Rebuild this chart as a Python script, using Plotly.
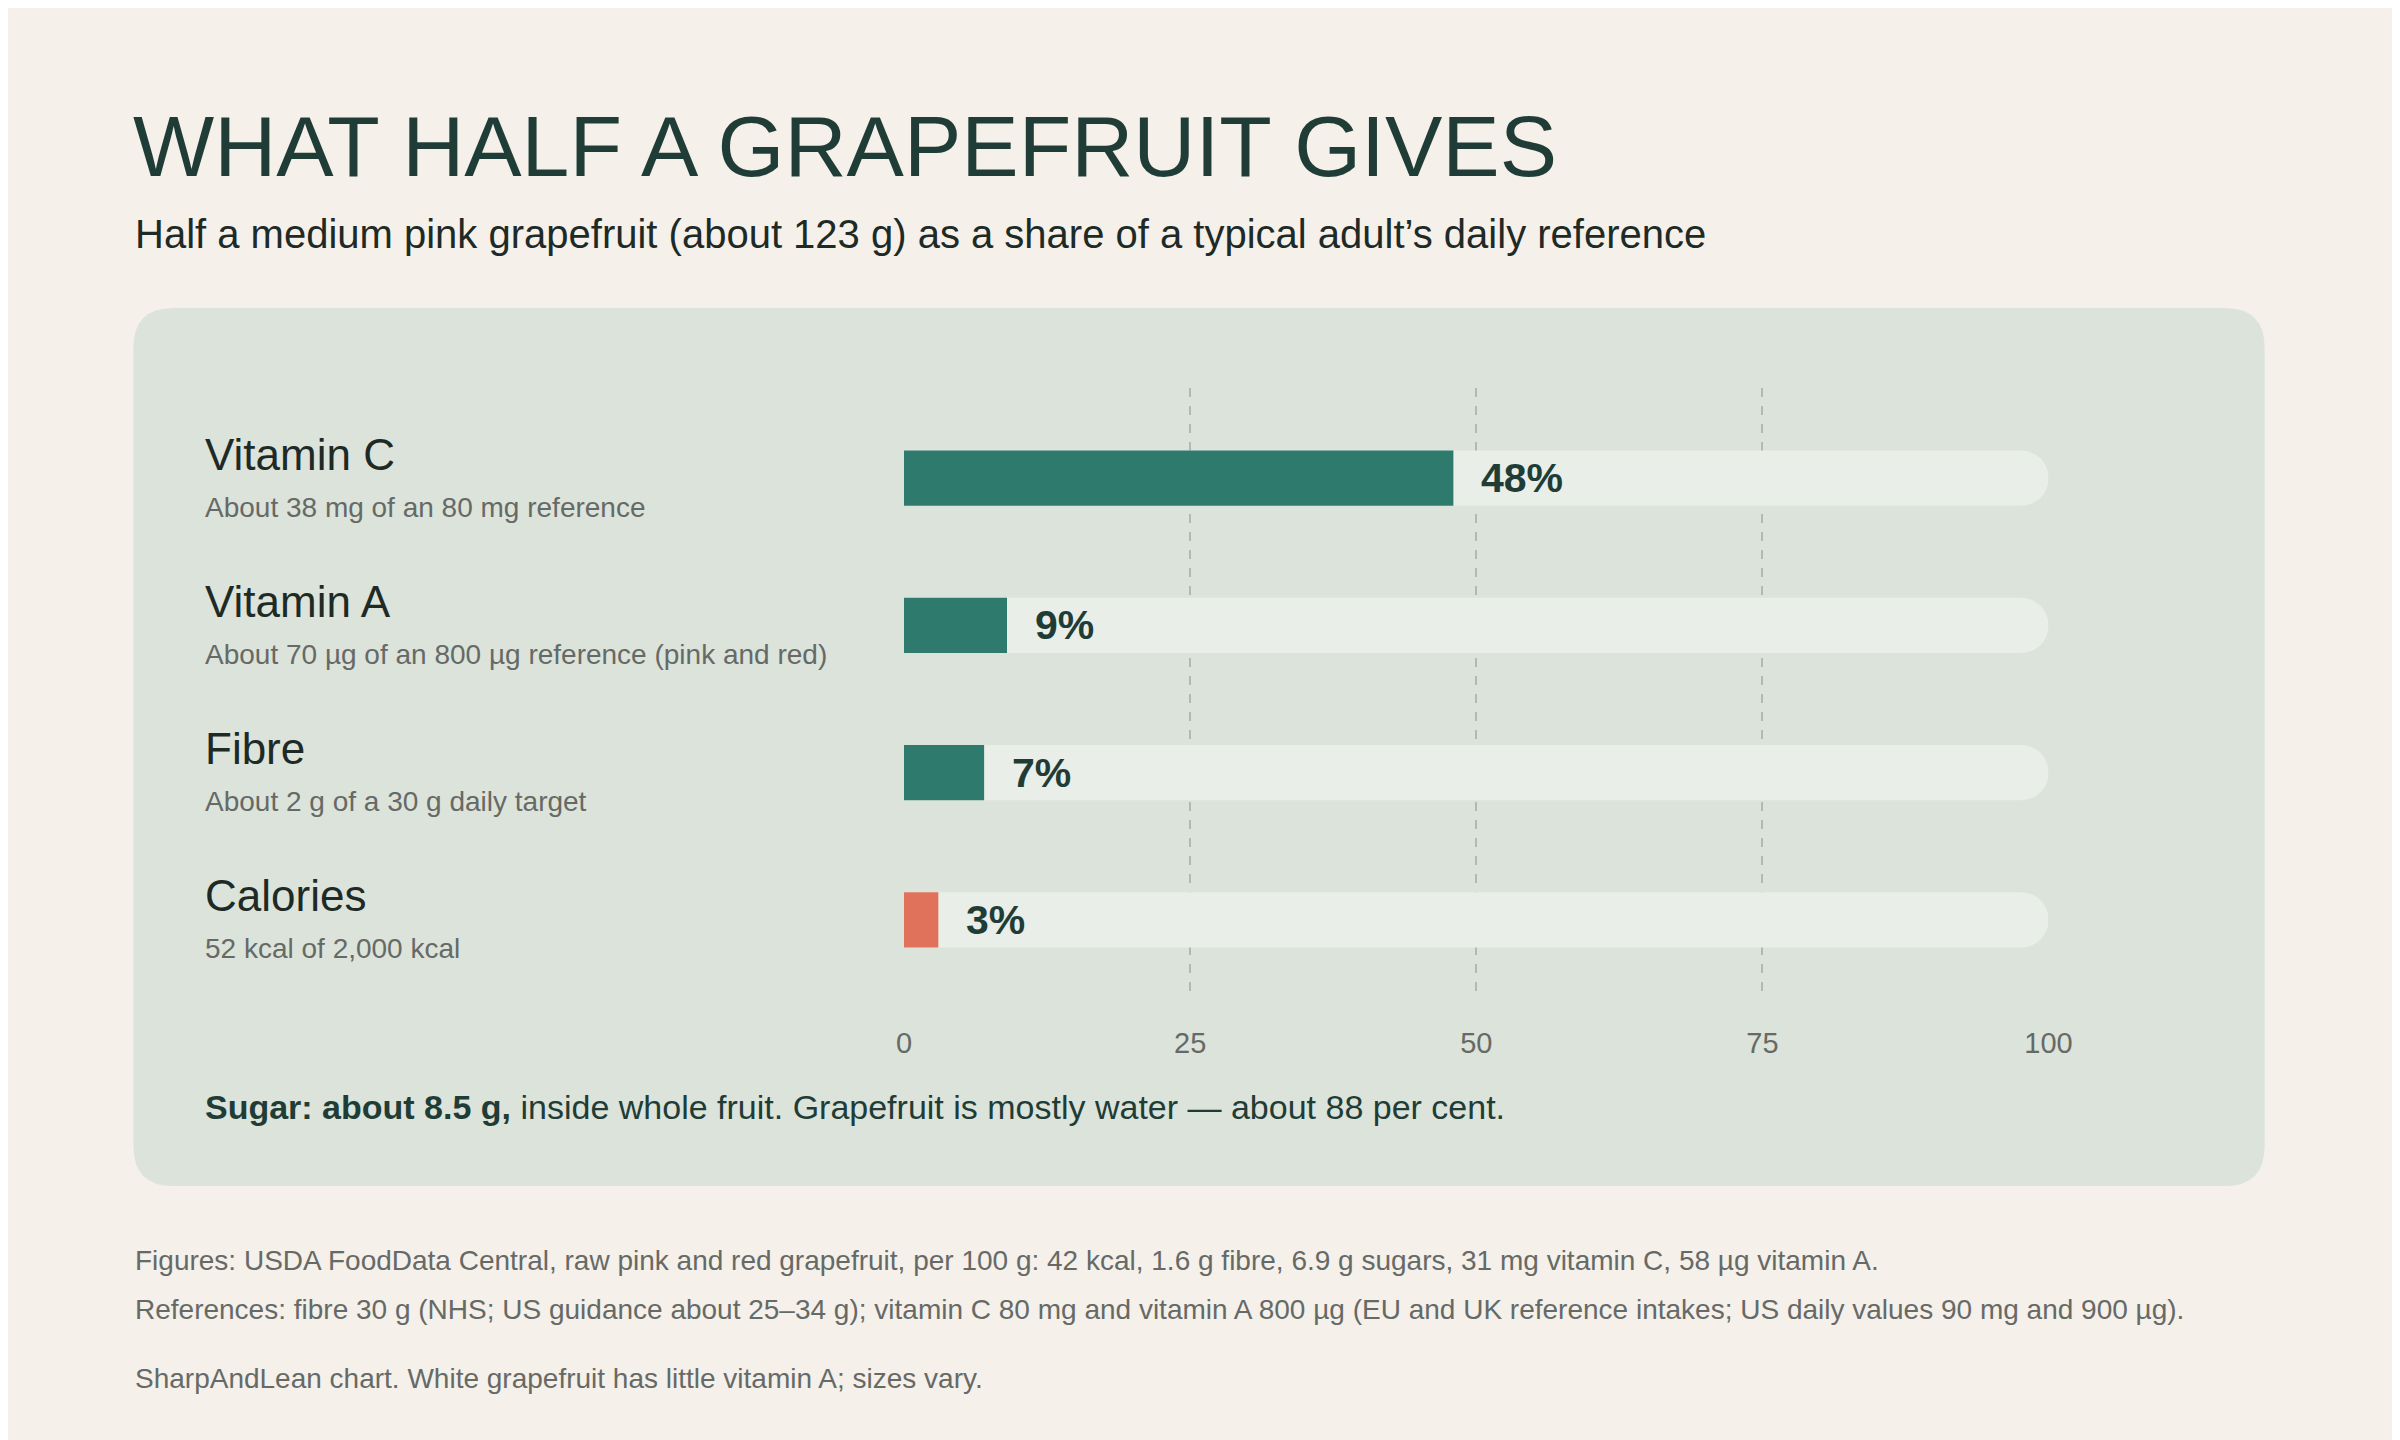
import plotly.graph_objects as go

W, H = 2400, 1440
nutrients = ["Vitamin C", "Vitamin A", "Fibre", "Calories"]
details = ["About 38 mg of an 80 mg reference",
           "About 70 µg of an 800 µg reference (pink and red)",
           "About 2 g of a 30 g daily target",
           "52 kcal of 2,000 kcal"]
shares = [48, 9, 7, 3]
bar_colors = ["#2e7b6e", "#2e7b6e", "#2e7b6e", "#e0725c"]
ticks = [0, 25, 50, 75, 100]

FONT = "Liberation Sans, Arial, sans-serif"
def px(x): return x / W
def py(y): return 1 - y / H

ypos = list(range(len(nutrients)))
fig = go.Figure()
fig.add_bar(x=[100]*len(nutrients), y=ypos, orientation="h", width=0.374,
            marker=dict(color="#e9eee8", line_width=0), hoverinfo="skip")
fig.add_bar(x=shares, y=ypos, orientation="h", width=0.374,
            marker=dict(color=bar_colors, line_width=0))

ann = []
for i, (n, d, s) in enumerate(zip(nutrients, details, shares)):
    cy = 470 + 147.3 * i
    ann.append(dict(text=n, x=px(190), y=py(cy - 24), xref="paper", yref="paper",
                    xanchor="left", yanchor="middle", showarrow=False,
                    font=dict(size=44, color="#1e2a26", family=FONT)))
    ann.append(dict(text=d, x=px(190), y=py(cy + 29), xref="paper", yref="paper",
                    xanchor="left", yanchor="middle", showarrow=False,
                    font=dict(size=28, color="#666a66", family=FONT)))
    ann.append(dict(text=f"<b>{s}%</b>", x=s, y=i, xref="x", yref="y",
                    xanchor="left", yanchor="middle", xshift=26, showarrow=False,
                    font=dict(size=41, color="#1f3d36", family=FONT)))

ann += [
    dict(text="WHAT HALF A GRAPEFRUIT GIVES", x=px(117), y=py(138), xref="paper", yref="paper",
         xanchor="left", yanchor="middle", showarrow=False,
         font=dict(size=86, color="#1f3d36", family=FONT)),
    dict(text="Half a medium pink grapefruit (about 123 g) as a share of a typical adult’s daily reference",
         x=px(119), y=py(226), xref="paper", yref="paper", xanchor="left", yanchor="middle",
         showarrow=False, font=dict(size=40, color="#1e2a26", family=FONT)),
    dict(text="<b>Sugar: about 8.5 g,</b> inside whole fruit. Grapefruit is mostly water — about 88 per cent.",
         x=px(190), y=py(1099), xref="paper", yref="paper", xanchor="left", yanchor="middle",
         showarrow=False, font=dict(size=34, color="#1f3d36", family=FONT)),
    dict(text="Figures: USDA FoodData Central, raw pink and red grapefruit, per 100 g: 42 kcal, 1.6 g fibre, 6.9 g sugars, 31 mg vitamin C, 58 µg vitamin A.",
         x=px(119), y=py(1252), xref="paper", yref="paper", xanchor="left", yanchor="middle",
         showarrow=False, font=dict(size=28, color="#666a66", family=FONT)),
    dict(text="References: fibre 30 g (NHS; US guidance about 25–34 g); vitamin C 80 mg and vitamin A 800 µg (EU and UK reference intakes; US daily values 90 mg and 900 µg).",
         x=px(119), y=py(1301), xref="paper", yref="paper", xanchor="left", yanchor="middle",
         showarrow=False, font=dict(size=28, color="#666a66", family=FONT)),
    dict(text="SharpAndLean chart. White grapefruit has little vitamin A; sizes vary.",
         x=px(119), y=py(1370), xref="paper", yref="paper", xanchor="left", yanchor="middle",
         showarrow=False, font=dict(size=28, color="#666a66", family=FONT)),
]

x0, x1, y0, y1, r = 119, 2279, 300, 1178, 40
path = (f"M {px(x0+r)},{py(y0)} L {px(x1-r)},{py(y0)} Q {px(x1)},{py(y0)} {px(x1)},{py(y0+r)} "
        f"L {px(x1)},{py(y1-r)} Q {px(x1)},{py(y1)} {px(x1-r)},{py(y1)} "
        f"L {px(x0+r)},{py(y1)} Q {px(x0)},{py(y1)} {px(x0)},{py(y1-r)} "
        f"L {px(x0)},{py(y0+r)} Q {px(x0)},{py(y0)} {px(x0+r)},{py(y0)} Z")

fig.update_layout(
    width=W, height=H, margin=dict(l=0, r=0, t=0, b=0),
    paper_bgcolor="#f5f0ea", plot_bgcolor="rgba(0,0,0,0)",
    barmode="overlay", barcornerradius="50%", showlegend=False,
    shapes=[dict(type="path", path=path, xref="paper", yref="paper",
                 fillcolor="#dce3da", line_width=0, layer="below")],
    annotations=ann,
    xaxis=dict(domain=[px(900), px(2060)], range=[0, 100], tickvals=ticks, ticksuffix="%",
               showgrid=True, gridcolor="#b3b9b2", griddash="dash", gridwidth=1.5,
               zeroline=False, showline=False, ticks="", ticklabelstandoff=28,
               tickfont=dict(size=29, color="#666a66", family=FONT), fixedrange=True),
    yaxis=dict(domain=[py(987), py(380)], range=[3.51, -0.612], showgrid=False,
               showticklabels=False, zeroline=False, fixedrange=True),
)
fig.write_html("out.html")
